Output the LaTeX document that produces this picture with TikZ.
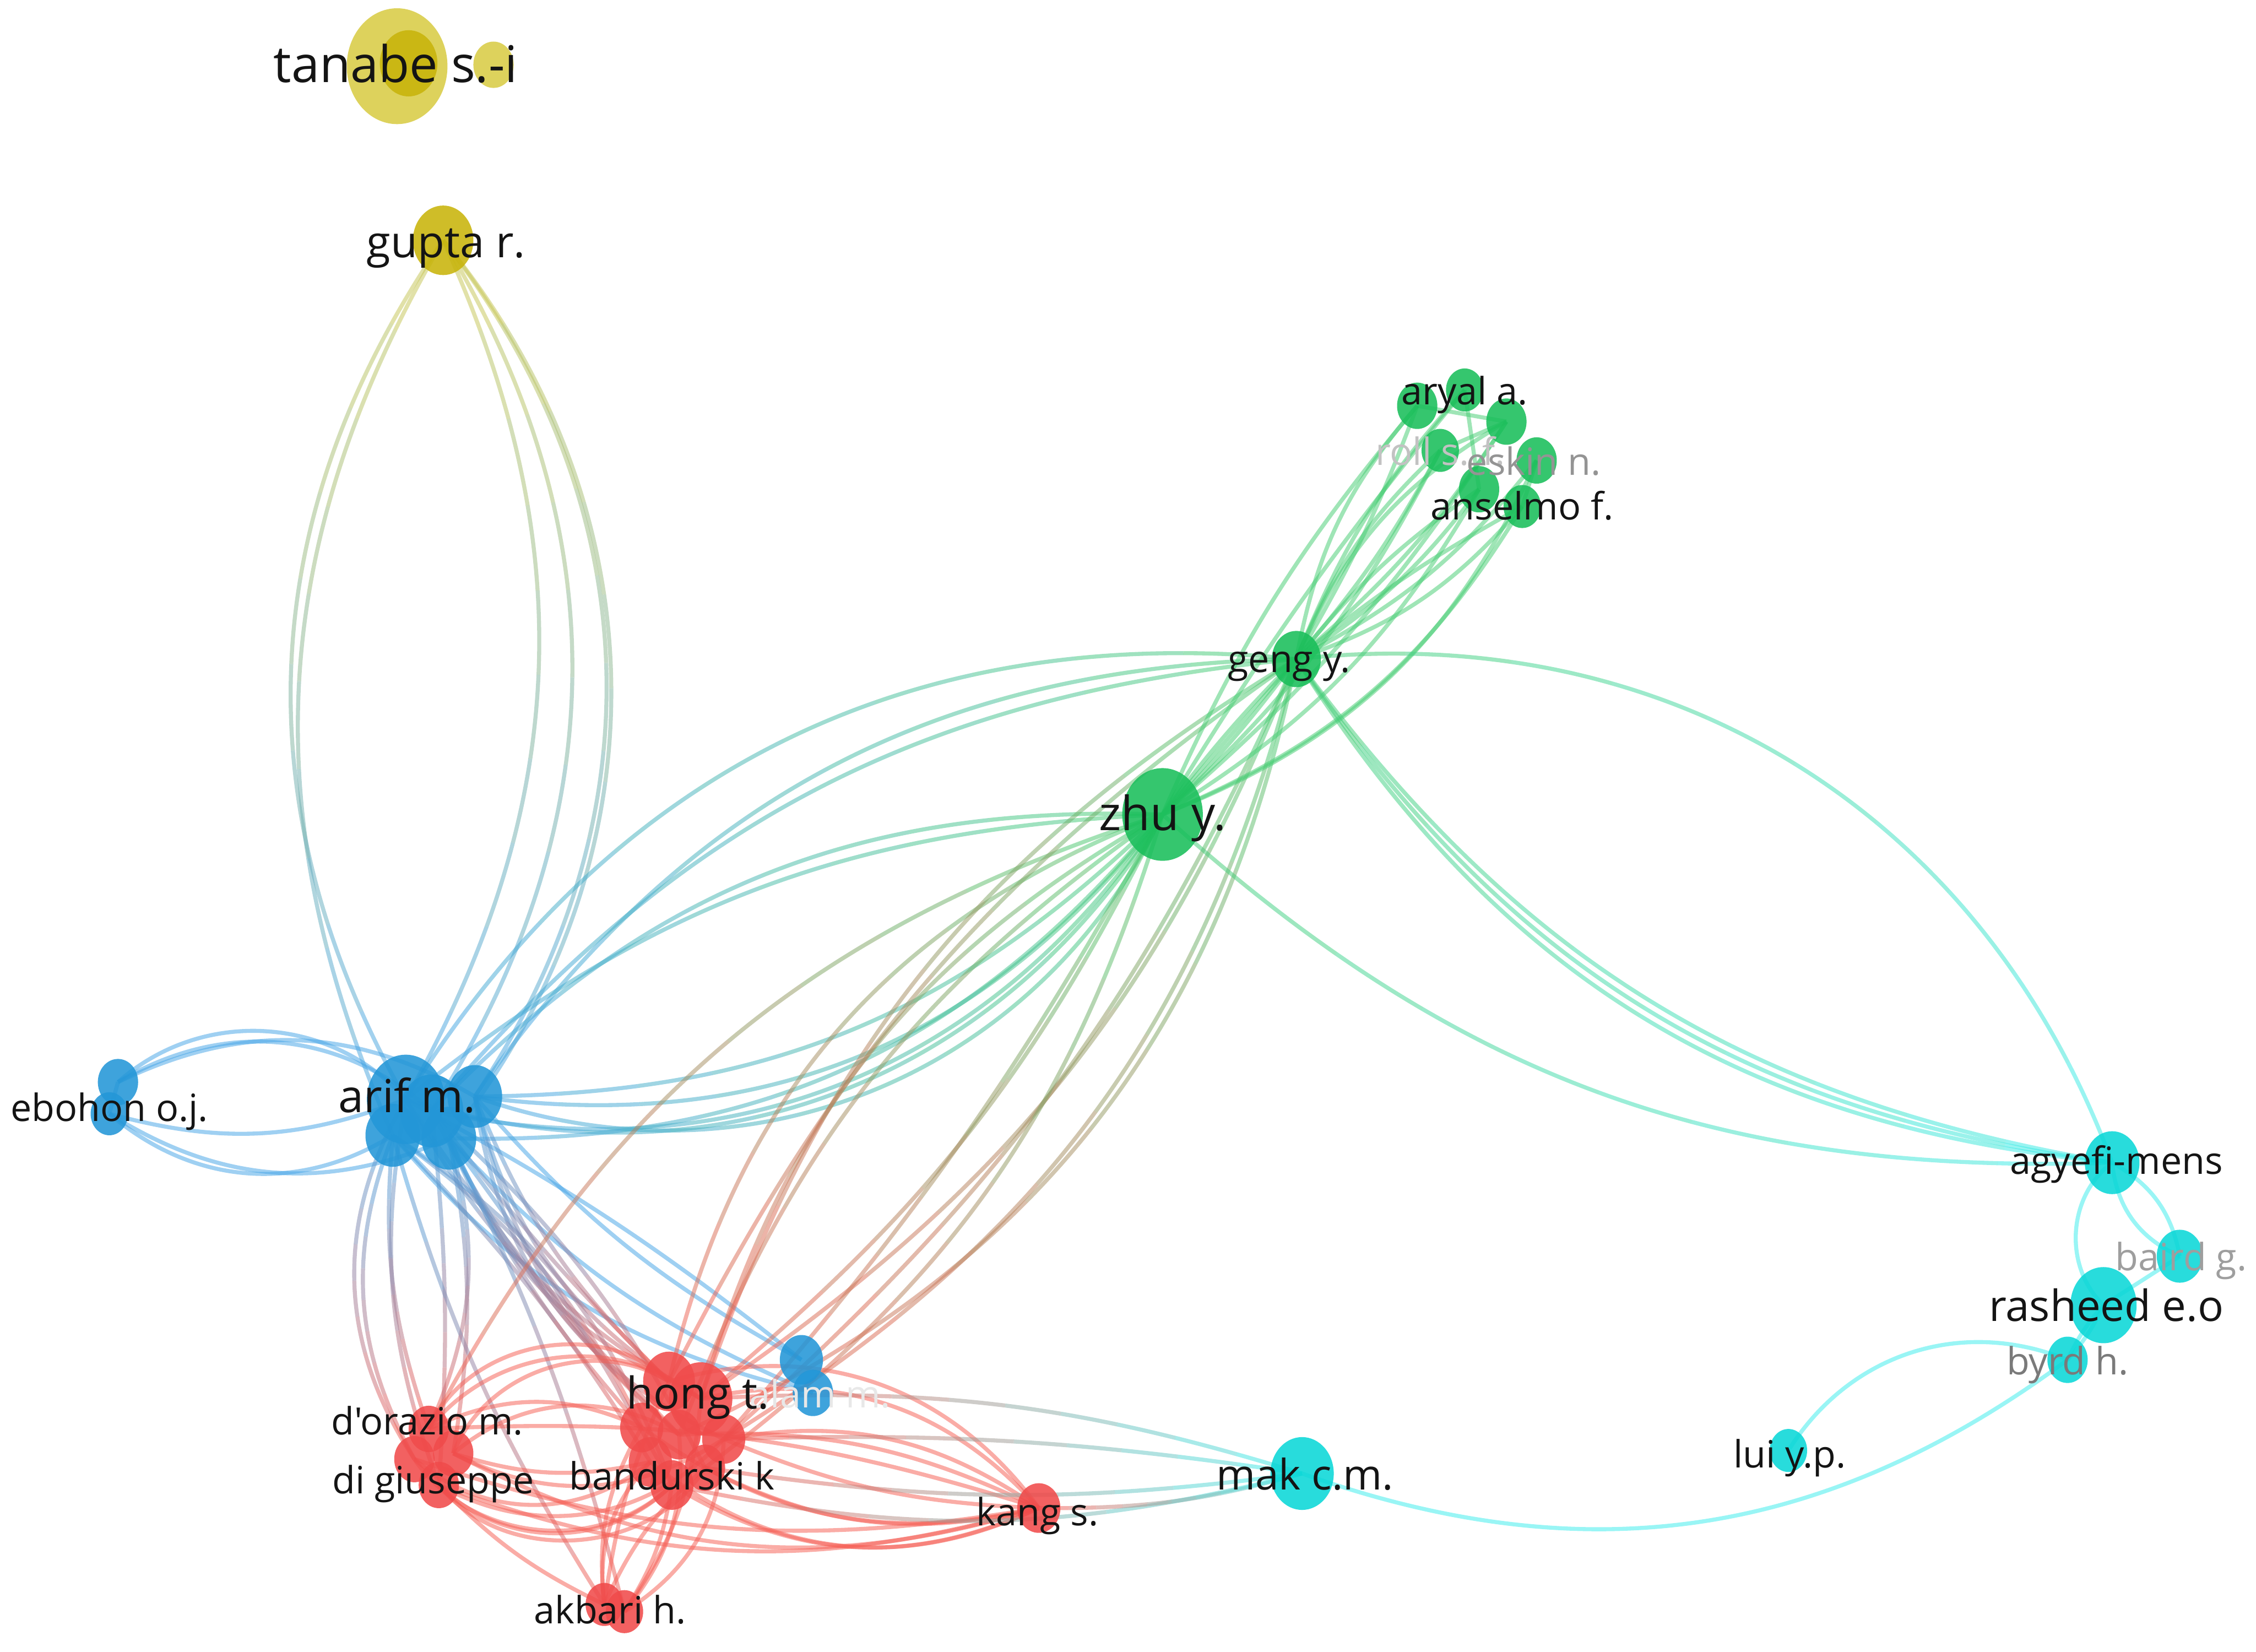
\documentclass[tikz,border=0pt]{standalone}
\usepackage{fontspec}
\setmainfont{Open Sans}[Ligatures=TeXOff]
\usetikzlibrary{calc,shapes.geometric}
\pgfdeclarelayer{edges}
\pgfsetlayers{edges,main}
\definecolor{nY}{RGB}{216,204,70}
\definecolor{nYd}{RGB}{200,180,10}
\definecolor{nG}{RGB}{25,190,90}
\definecolor{nB}{RGB}{35,150,215}
\definecolor{nR}{RGB}{240,75,75}
\definecolor{nC}{RGB}{10,215,215}
\definecolor{eY}{RGB}{205,200,80}
\definecolor{eB}{RGB}{70,165,230}
\definecolor{eG}{RGB}{70,205,115}
\definecolor{eR}{RGB}{245,95,85}
\definecolor{eC}{RGB}{60,235,235}
\definecolor{txt}{RGB}{20,20,20}
\newcommand\fs[1]{\fontsize{#1}{#1}\selectfont}
% gradient edge: from, to, bend angle, colour at start, colour at end
\newcommand\Gd[5]{%
  \pgfmathsetmacro\angB{-1*(#3)}%
  \path ($(#1.center)!0.39!#3:(#2.center)$) coordinate (qa)
        ($(#2.center)!0.39!\angB:(#1.center)$) coordinate (qb);
  \foreach \k in {0,...,9}{%
    \pgfmathsetmacro\ta{\k/10}%
    \pgfmathsetmacro\tb{(\k+1)/10}%
    \pgfmathtruncatemacro\mx{95-10*\k}%
    \colorlet{segc}{#4!\mx!#5}%
    \pgfsetstrokecolor{segc}%
    \pgfpathcurvebetweentime{\ta}{\tb}{\pgfpointanchor{#1}{center}}{\pgfpointanchor{qa}{center}}{\pgfpointanchor{qb}{center}}{\pgfpointanchor{#2}{center}}%
    \pgfusepath{stroke}%
  }%
}
% single colour edge
\newcommand\Sg[4]{%
  \pgfmathsetmacro\angB{-1*(#3)}%
  \draw[#4] (#1.center) .. controls ($(#1.center)!0.39!#3:(#2.center)$) and ($(#2.center)!0.39!\angB:(#1.center)$) .. (#2.center);%
}
\tikzset{
  dot/.style 2 args={ellipse, inner sep=0pt, minimum width={#1*0.06cm}, minimum height={#1*0.069cm}, fill=#2, fill opacity=.88, draw=none},
  lab/.style={anchor=mid, inner sep=0pt, text=txt, font=\fs{22.3}},
  big/.style={font=\fs{#1}},
}
\begin{document}
\begin{tikzpicture}[x=0.03cm,y=-0.03cm]
\useasboundingbox (0,0) rectangle (1568,1148);
% ---------- nodes ----------
% yellow
\node[dot={35}{nY}] (tan1) at (276,46) {};
\node[dot={20}{nYd}] (tan2) at (284,44) {};
\node[dot={14}{nY}] (tan3) at (343,45) {};
\node[dot={21}{nYd}] (gupta) at (308,167) {};
% green
\node[dot={14}{nG}] (ar1) at (985,282) {};
\node[dot={13}{nG}] (ar2) at (1018,271) {};
\node[dot={14}{nG}] (ar3) at (1047,293) {};
\node[dot={13}{nG}] (ar4) at (1001,313) {};
\node[dot={14}{nG}] (ar5) at (1068,320) {};
\node[dot={14}{nG}] (ar6) at (1028,340) {};
\node[dot={13}{nG}] (ar7) at (1058,352) {};
\node[dot={17}{nG}] (geng) at (901,458) {};
\node[dot={28}{nG}] (zhu) at (808,566) {};
% blue
\node[dot={19}{nB}] (a3) at (273,789) {};
\node[dot={19}{nB}] (a4) at (312,791) {};
\node[dot={22}{nB}] (a5) at (300,772) {};
\node[dot={19}{nB}] (a2) at (330,762) {};
\node[dot={27}{nB}] (a1) at (282,764) {};
\node[dot={14}{nB}] (eb1) at (82,752) {};
\node[dot={13}{nB}] (eb2) at (76,774) {};
\node[dot={15}{nB}] (bh1) at (557,945) {};
\node[dot={14}{nB}] (bh2) at (565,968) {};
% red
\node[dot={15}{nR}] (h8) at (467,1032) {};
\node[dot={14}{nR}] (h7) at (490,1020) {};
\node[dot={15}{nR}] (h6) at (452,1016) {};
\node[dot={15}{nR}] (h5) at (503,1000) {};
\node[dot={15}{nR}] (h4) at (472,997) {};
\node[dot={15}{nR}] (h3) at (446,992) {};
\node[dot={18}{nR}] (h2) at (465,960) {};
\node[dot={22}{nR}] (h1) at (487,972) {};
\node[dot={14}{nR}] (d4) at (305,1032) {};
\node[dot={14}{nR}] (d2) at (288,1014) {};
\node[dot={14}{nR}] (d3) at (315,1010) {};
\node[dot={14}{nR}] (d1) at (298,993) {};
\node[dot={13}{nR}] (k1) at (420,1115) {};
\node[dot={13}{nR}] (k2) at (434,1120) {};
\node[dot={15}{nR}] (kang) at (722,1048) {};
% cyan
\node[dot={22}{nC}] (mak) at (905,1024) {};
\node[dot={19}{nC}] (agy) at (1468,808) {};
\node[dot={16}{nC}] (baird) at (1515,873) {};
\node[dot={23}{nC}] (ras) at (1462,907) {};
\node[dot={14}{nC}] (byrd) at (1437,945) {};
\node[dot={13}{nC}] (lui) at (1243,1008) {};
% ---------- labels ----------
\node[lab, big=30] (l-tan) at (275,54) {tanabe s.-i};
\node[lab, big=26] (l-gupta) at (310,176) {gupta r.};
\node[lab] (l-aryal) at (1018,278) {aryal a.};
\node[lab, text=black!24] (l-roll) at (1001,320) {roll s. f.};
\node[lab, text=black!42] (l-eskin) at (1066,327) {eskin n.};
\node[lab] (l-ans) at (1058,358) {anselmo f.};
\node[lab] (l-geng) at (896,464) {geng y.};
\node[lab, big=28] (l-zhu) at (808,574) {zhu y.};
\node[lab, big=27] (l-arif) at (283,770) {arif m.};
\node[lab] (l-eb) at (76,776) {ebohon o.j.};
\node[lab, text=black!9] (l-alam) at (570,975) {alam m.};
\node[lab, big=26] (l-hong) at (485,976) {hong t.};
\node[lab] (l-dor) at (297,994) {d'orazio m.};
\node[lab] (l-dig) at (301,1035) {di giuseppe};
\node[lab] (l-band) at (467,1032) {bandurski k};
\node[lab] (l-akb) at (424,1125) {akbari h.};
\node[lab] (l-kang) at (721,1057) {kang s.};
\node[lab, big=25] (l-mak) at (907,1032) {mak c.m.};
\node[lab] (l-agy) at (1471,813) {agyefi-mens};
\node[lab, text=black!38] (l-baird) at (1516,880) {baird g.};
\node[lab, big=25.5] (l-ras) at (1464,915) {rasheed e.o};
\node[lab, text=black!52] (l-byrd) at (1437,952) {byrd h.};
\node[lab] (l-lui) at (1244,1017) {lui y.p.};
% ---------- edges ----------
\begin{pgfonlayer}{edges}
\begin{scope}[line width=2.4pt, draw opacity=.52]
% gupta - arif
\Gd{gupta}{a1}{-32}{eY}{eB}
\Gd{gupta}{a3}{-27}{eY}{eB}
\Gd{gupta}{a1}{27}{eY}{eB}
\Gd{gupta}{a5}{32}{eY}{eB}
\Gd{gupta}{a2}{36}{eY}{eB}
\Gd{gupta}{a4}{39}{eY}{eB}
% ebohon - arif
\Sg{eb1}{a1}{45}{eB}
\Sg{eb1}{a5}{36}{eB}
\Sg{eb1}{a2}{28}{eB}
\Sg{eb2}{a3}{-36}{eB}
\Sg{eb2}{a4}{-28}{eB}
\Sg{eb2}{a1}{-18}{eB}
\Sg{eb1}{eb2}{0}{eB}
% arif - blue nodes near hong
\Sg{a2}{bh1}{-10}{eB}
\Sg{a1}{bh1}{5}{eB}
\Sg{a3}{bh2}{-18}{eB}
\Sg{a4}{bh2}{-12}{eB}
% arif - zhu / geng
\Gd{a2}{zhu}{-42}{eB}{eG}
\Gd{a1}{zhu}{-38}{eB}{eG}
\Gd{a5}{zhu}{-34}{eB}{eG}
\Gd{a2}{zhu}{-30}{eB}{eG}
\Gd{a4}{zhu}{-26}{eB}{eG}
\Gd{a2}{zhu}{-22}{eB}{eG}
\Gd{a1}{zhu}{18}{eB}{eG}
\Gd{a5}{zhu}{24}{eB}{eG}
\Gd{a1}{geng}{32}{eB}{eG}
\Gd{a2}{geng}{27}{eB}{eG}
\Gd{a5}{geng}{22}{eB}{eG}
% arif - red
\Gd{a3}{d2}{-25}{eB}{eR}
\Gd{a3}{d1}{-12}{eB}{eR}
\Gd{a1}{d4}{-15}{eB}{eR}
\Gd{a4}{d3}{10}{eB}{eR}
\Gd{a4}{d1}{20}{eB}{eR}
\Gd{a5}{d4}{5}{eB}{eR}
\Gd{a1}{d2}{-32}{eB}{eR}
\Gd{a4}{h2}{-20}{eB}{eR}
\Gd{a4}{h3}{-8}{eB}{eR}
\Gd{a2}{h1}{-22}{eB}{eR}
\Gd{a2}{h2}{-12}{eB}{eR}
\Gd{a1}{h4}{-5}{eB}{eR}
\Gd{a3}{h6}{6}{eB}{eR}
\Gd{a3}{h3}{14}{eB}{eR}
\Gd{a5}{h7}{10}{eB}{eR}
\Gd{a2}{h5}{-28}{eB}{eR}
\Gd{a4}{h8}{4}{eB}{eR}
\Gd{a1}{h1}{-15}{eB}{eR}
\Gd{a5}{h4}{-10}{eB}{eR}
\Gd{a3}{h8}{18}{eB}{eR}
\Gd{a5}{h2}{-4}{eB}{eR}
\Gd{a2}{h4}{-18}{eB}{eR}
\Gd{a3}{k1}{-8}{eB}{eR}
\Gd{a4}{k2}{6}{eB}{eR}
% d'orazio - hong
\Sg{d1}{h2}{55}{eR}
\Sg{d1}{h1}{45}{eR}
\Sg{d3}{h4}{35}{eR}
\Sg{d1}{h3}{25}{eR}
\Sg{d3}{h2}{50}{eR}
\Sg{d2}{h6}{-40}{eR}
\Sg{d4}{h7}{-55}{eR}
\Sg{d4}{h8}{-45}{eR}
\Sg{d3}{h5}{-30}{eR}
\Sg{d3}{h6}{-15}{eR}
\Sg{d2}{h8}{-50}{eR}
\Sg{d4}{h5}{-38}{eR}
% d'orazio - kang
\Sg{d4}{kang}{-18}{eR}
\Sg{d2}{kang}{-14}{eR}
\Sg{d1}{kang}{10}{eR}
\Sg{d3}{kang}{-22}{eR}
% hong - kang
\Sg{h1}{kang}{30}{eR}
\Sg{h5}{kang}{22}{eR}
\Sg{h2}{kang}{35}{eR}
\Sg{h4}{kang}{14}{eR}
\Sg{h7}{kang}{-20}{eR}
\Sg{h8}{kang}{-28}{eR}
\Sg{h6}{kang}{-32}{eR}
\Sg{h5}{kang}{-10}{eR}
\Sg{h3}{kang}{-24}{eR}
% hong - akbari
\Sg{h6}{k1}{-25}{eR}
\Sg{h7}{k1}{-12}{eR}
\Sg{h8}{k2}{12}{eR}
\Sg{h4}{k2}{22}{eR}
\Sg{h3}{k1}{-18}{eR}
\Sg{h5}{k2}{28}{eR}
\Sg{h1}{k2}{15}{eR}
\Sg{h2}{k1}{-8}{eR}
\Sg{d4}{k1}{-10}{eR}
% red - green
\Gd{h2}{zhu}{28}{eR}{eG}
\Gd{h1}{zhu}{22}{eR}{eG}
\Gd{h4}{zhu}{17}{eR}{eG}
\Gd{d1}{zhu}{22}{eR}{eG}
\Gd{h1}{geng}{20}{eR}{eG}
\Gd{h2}{geng}{14}{eR}{eG}
\Gd{h5}{geng}{-12}{eR}{eG}
\Gd{h1}{geng}{-17}{eR}{eG}
\Gd{h5}{geng}{-22}{eR}{eG}
\Gd{h4}{geng}{-27}{eR}{eG}
\Gd{h5}{zhu}{-6}{eR}{eG}
\Gd{h1}{zhu}{-12}{eR}{eG}
\Gd{h7}{zhu}{-18}{eR}{eG}
% red - cyan
\Gd{h1}{mak}{10}{eR}{eC}
\Gd{h5}{mak}{5}{eR}{eC}
\Gd{h7}{mak}{-8}{eR}{eC}
\Gd{h8}{mak}{-13}{eR}{eC}
\Gd{kang}{mak}{-8}{eR}{eC}
% green
\Sg{geng}{zhu}{0}{eG}
\Sg{geng}{zhu}{4}{eG}
\Sg{geng}{zhu}{-4}{eG}
\Sg{ar1}{geng}{-15}{eG}
\Sg{ar1}{geng}{5}{eG}
\Sg{ar2}{geng}{-10}{eG}
\Sg{ar3}{geng}{8}{eG}
\Sg{ar3}{geng}{-18}{eG}
\Sg{ar4}{geng}{-12}{eG}
\Sg{ar4}{geng}{6}{eG}
\Sg{ar5}{geng}{12}{eG}
\Sg{ar6}{geng}{-8}{eG}
\Sg{ar6}{geng}{10}{eG}
\Sg{ar7}{geng}{15}{eG}
\Sg{ar7}{geng}{-5}{eG}
\Sg{ar1}{zhu}{-8}{eG}
\Sg{ar2}{zhu}{-4}{eG}
\Sg{ar4}{zhu}{10}{eG}
\Sg{ar6}{zhu}{14}{eG}
\Sg{ar7}{zhu}{18}{eG}
\Sg{ar3}{zhu}{8}{eG}
\Sg{ar5}{zhu}{22}{eG}
\Sg{ar1}{ar3}{0}{eG}
\Sg{ar2}{ar6}{0}{eG}
\Sg{ar4}{ar3}{0}{eG}
\Sg{ar5}{ar7}{0}{eG}
% green - cyan
\Gd{geng}{agy}{38}{eG}{eC}
\Gd{geng}{agy}{-22}{eG}{eC}
\Gd{geng}{agy}{-24}{eG}{eC}
\Gd{geng}{agy}{-26}{eG}{eC}
\Gd{zhu}{agy}{-22}{eG}{eC}
% cyan
\Sg{agy}{baird}{-30}{eC}
\Sg{agy}{baird}{25}{eC}
\Sg{agy}{ras}{-50}{eC}
\Sg{baird}{ras}{0}{eC}
\Sg{ras}{byrd}{8}{eC}
\Sg{ras}{byrd}{-8}{eC}
\Sg{lui}{byrd}{40}{eC}
\Sg{mak}{byrd}{-28}{eC}
\end{scope}
\end{pgfonlayer}
\end{tikzpicture}
\end{document}
